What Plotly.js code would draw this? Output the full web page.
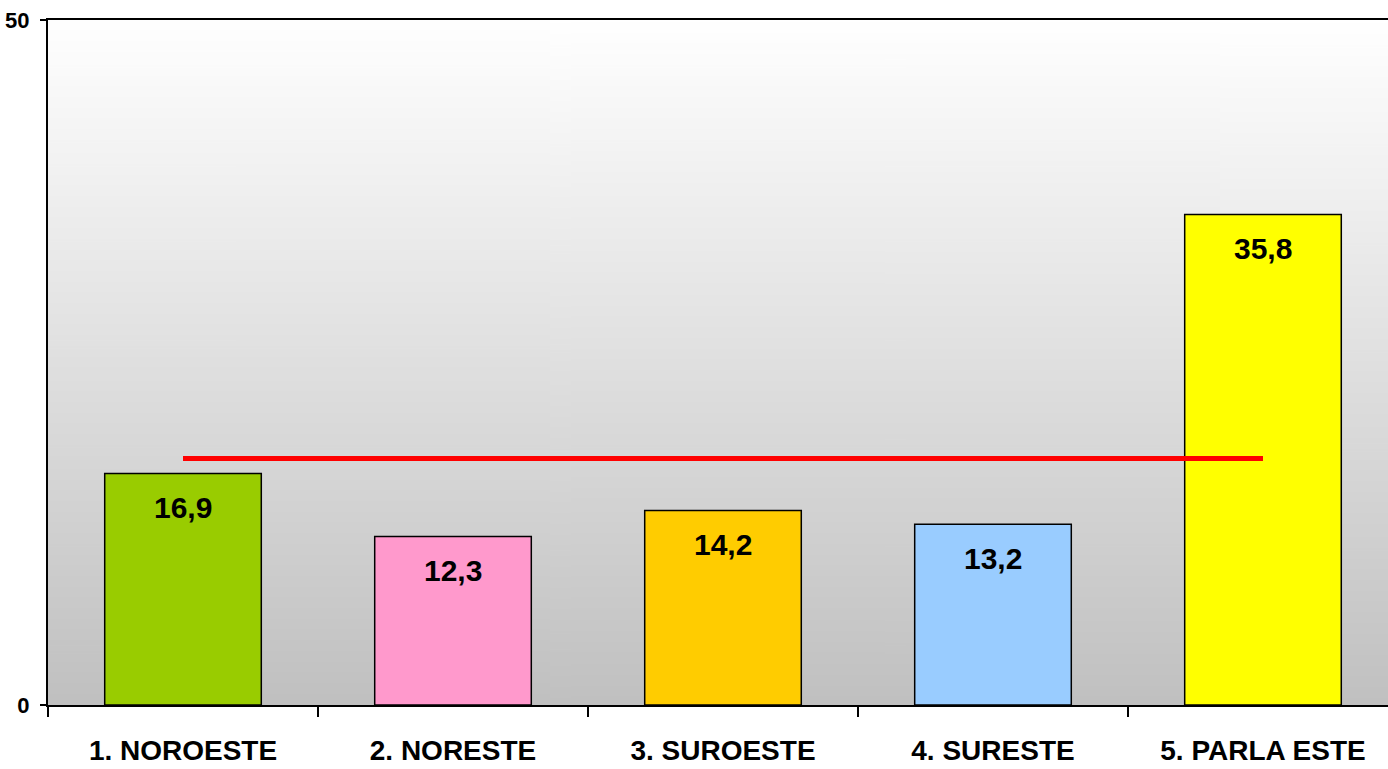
<!DOCTYPE html>
<html>
<head>
<meta charset="utf-8">
<script src="https://cdn.plot.ly/plotly-3.0.1.min.js"></script>
<style>
  html, body { margin: 0; padding: 0; background: #ffffff; }
  #chart { width: 1388px; height: 769px; }
</style>
</head>
<body>
<div id="chart"></div>
<script>
const categories = ['1. NOROESTE', '2. NORESTE', '3. SUROESTE', '4. SURESTE', '5. PARLA ESTE'];
const values = [16.9, 12.3, 14.2, 13.2, 35.8];
const barColors = ['#99CC00', '#FF99CC', '#FFCC00', '#99CCFF', '#FFFF00'];
const averageValues = [18.0, 18.0, 18.0, 18.0, 18.0];
const yTickVals = [0, 50];
const yTickText = ['0', '50'];

// gradient background image built locally
function gradientURI() {
  const c = document.createElement('canvas');
  c.width = 4; c.height = 512;
  const ctx = c.getContext('2d');
  const g = ctx.createLinearGradient(0, 0, 0, 512);
  g.addColorStop(0, '#ffffff');
  g.addColorStop(1, '#c0c0c0');
  ctx.fillStyle = g;
  ctx.fillRect(0, 0, 4, 512);
  return c.toDataURL('image/png');
}

const fmt = v => v.toFixed(1).replace('.', ',');
const FONT = 'Arial, Liberation Sans, sans-serif';

const bars = {
  type: 'bar',
  x: categories,
  y: values,
  marker: { color: barColors, line: { color: '#000000', width: 1.5 } },
  hoverinfo: 'skip',
  showlegend: false
};

const avgLine = {
  type: 'scatter',
  mode: 'lines',
  x: categories,
  y: averageValues,
  line: { color: '#FF0000', width: 5 },
  hoverinfo: 'skip',
  showlegend: false
};

const annotations = categories.map((c, i) => ({
  x: c, y: values[i], xref: 'x', yref: 'y',
  text: fmt(values[i]),
  showarrow: false,
  yanchor: 'middle',
  yshift: -34,
  font: { family: FONT, size: 30, color: '#000000', weight: 'bold' }
}));

const layout = {
  width: 1388, height: 769,
  margin: { l: 48, r: 0, t: 20, b: 64, pad: 0 },
  paper_bgcolor: '#ffffff',
  plot_bgcolor: 'rgba(0,0,0,0)',
  bargap: 0.42,
  showlegend: false,
  images: [{
    source: gradientURI(),
    xref: 'paper', yref: 'paper',
    x: 0, y: 1, sizex: 1, sizey: 1,
    xanchor: 'left', yanchor: 'top',
    sizing: 'stretch', layer: 'below'
  }],
  xaxis: {
    type: 'category',
    range: [-0.5, 4.463],
    showgrid: false,
    zeroline: false,
    showline: true, linecolor: '#000000', linewidth: 2,
    mirror: true,
    ticks: 'outside', ticklen: 10, tickwidth: 2, tickcolor: '#000000',
    tickson: 'boundaries',
    ticklabelstandoff: 19,
    tickfont: { family: FONT, size: 28, color: '#000000', weight: 'bold' },
    fixedrange: true
  },
  yaxis: {
    range: [0, 50],
    tickvals: yTickVals,
    ticktext: yTickText,
    showgrid: false,
    zeroline: false,
    showline: true, linecolor: '#000000', linewidth: 2,
    ticks: 'outside', ticklen: 6, tickwidth: 2, tickcolor: '#000000',
    ticklabelstandoff: 6,
    tickfont: { family: FONT, size: 22, color: '#000000', weight: 'bold' },
    fixedrange: true
  },
  annotations: annotations
};

Plotly.newPlot('chart', [bars, avgLine], layout, { staticPlot: true, displayModeBar: false });
</script>
</body>
</html>
